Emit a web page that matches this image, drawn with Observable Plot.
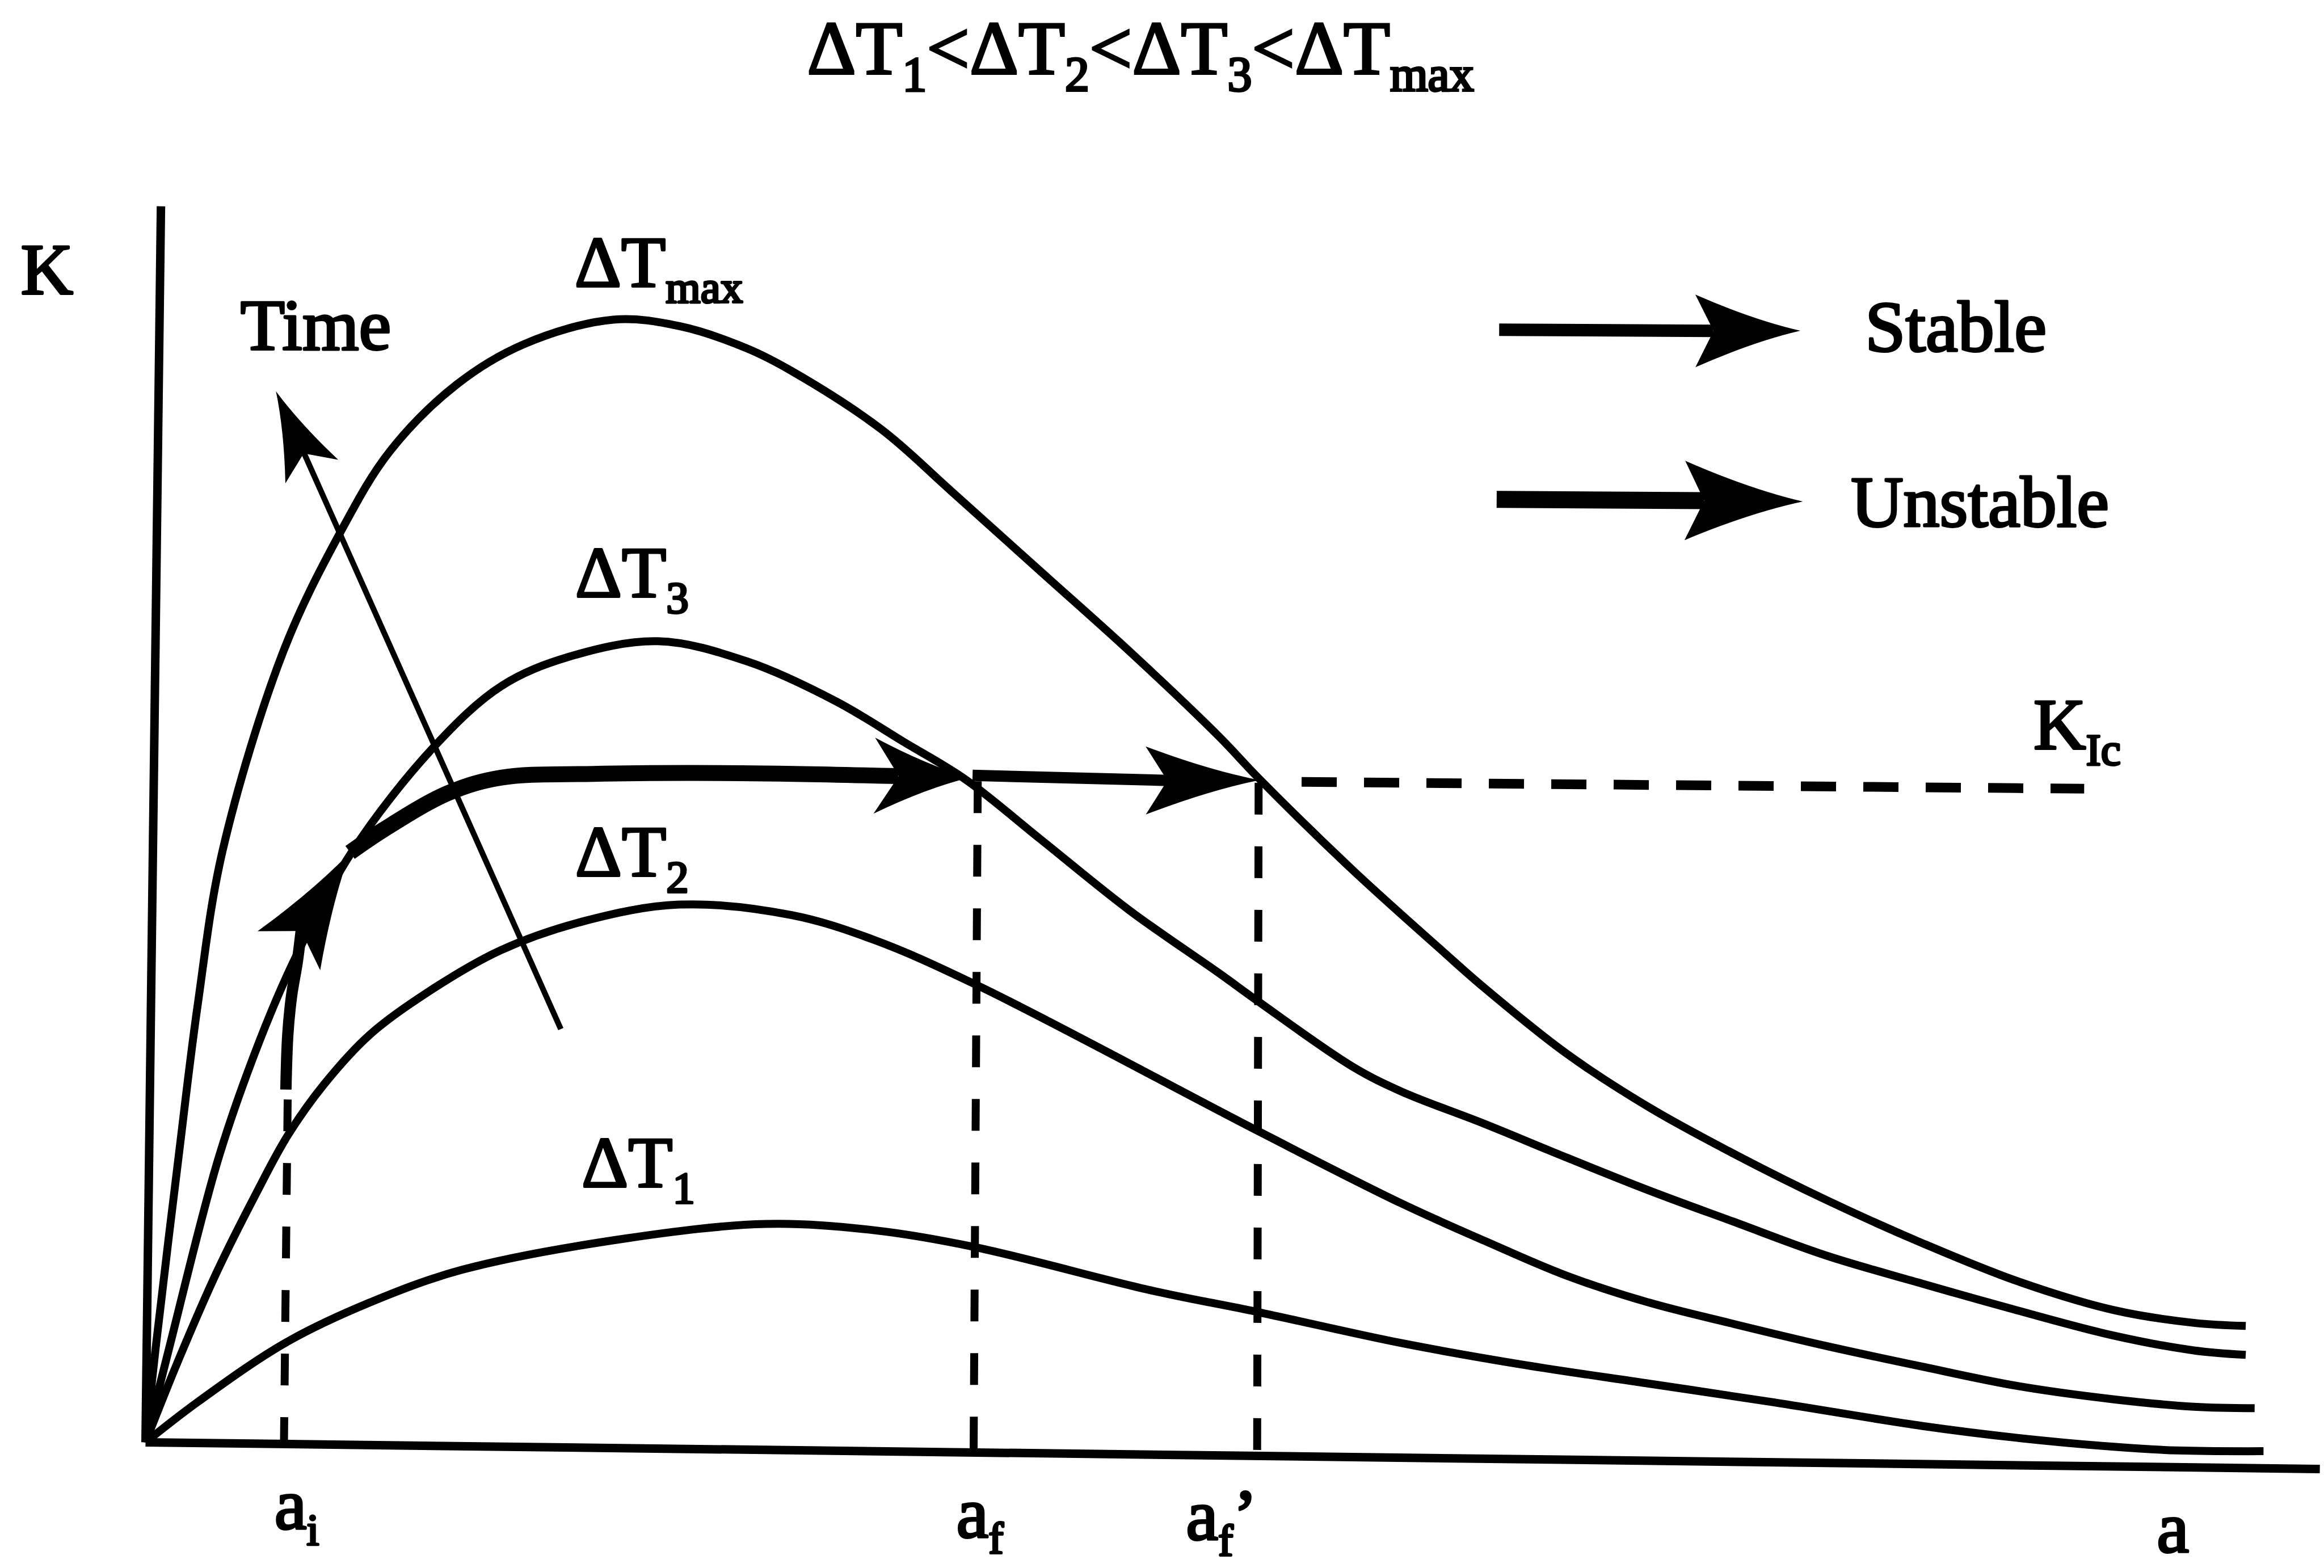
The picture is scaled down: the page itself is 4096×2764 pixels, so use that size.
<!DOCTYPE html>
<html>
<head>
<meta charset="utf-8">
<script src="https://cdn.jsdelivr.net/npm/d3@7"></script>
<script src="https://cdn.jsdelivr.net/npm/@observablehq/plot@0.6"></script>
<style>
  html, body { margin: 0; padding: 0; background: #fff; }
  #title { box-sizing: border-box; width: 4096px; height: 200px; padding: 18px 76px 0 0; text-align: center;
           font-family: "Liberation Serif", "Times New Roman", serif; font-size: 134px; line-height: 1; color: #000; white-space: nowrap;
           -webkit-text-stroke: 4px #000; paint-order: stroke fill; }
  #title sub { font-size: 0.64em; vertical-align: -30px; line-height: 0; }
  #chart svg { display: block; }
</style>
</head>
<body>
<div id="title"></div>
<div id="chart"></div>
<script>
// ---------------- data (a = crack length, K = stress intensity; schematic units) ----------------
const seriesNames = ["ΔTmax", "ΔT3", "ΔT2", "ΔT1"];
const titleOrder = [["ΔT", "1"], ["ΔT", "2"], ["ΔT", "3"], ["ΔT", "max"]];

const dTmax = [[0,0],[6.8,63.4],[22.3,192.6],[35.3,295.9],[52,399.2],[93.2,534.2],[131.6,614.3],[164.8,668.6],[210,713.8],[255.2,740.9],[315.5,757.5],[360.7,753],[406,738],[436,722.8],[496.3,683.6],[543.4,642],[603.7,587.8],[664,533.6],[724.2,476.3],[751.4,447.7],[814.7,385.9],[874.9,331.6],[903.1,306.8],[959,262.1],[1015,225.7],[1071,195],[1134,163.5],[1199,134.3],[1263,108.7],[1328,89.2],[1382,80.6],[1417,78.5]];
const dT3 = [[0,0],[15.9,63.4],[49.5,192.6],[76.6,270],[99.8,324.3],[139,398],[194.9,469.6],[240.1,510.3],[285.3,529.9],[345.6,540.5],[405.9,526.9],[466.2,499.8],[511.4,472.7],[553.6,447],[603.7,407],[664,358.8],[724.2,316.6],[751.4,297],[814.7,253.3],[847.1,236.8],[903.1,215],[959.1,192],[1015,169.7],[1071,149],[1134,126],[1199,107],[1263,89],[1328,72],[1382,62],[1417,59]];
const dT2 = [[0,0],[22.3,55.7],[48.2,115.1],[74,166.7],[95.9,207],[120.5,241.6],[151.5,275.2],[190.2,303.6],[239.6,332],[295.6,351.6],[359.9,362.8],[435.5,355.8],[491.5,339],[561.5,308.2],[751.4,209.6],[847.1,161.3],[903.1,136.1],[959.1,112.3],[1015,94.1],[1071,80],[1134,65],[1199,51],[1263,38],[1328,29],[1382,24],[1423,23]];
const dT1 = [[0,0],[35.2,27.2],[94.7,67.3],[151.5,94.4],[213.5,116.4],[323.6,137.5],[418.7,147.3],[491.5,143.1],[558.7,131.9],[678.5,102.5],[750,88],[847.1,67],[931,52.1],[1015,39.5],[1099,26.9],[1199,11],[1263,3],[1328,-3],[1371,-5.5],[1429,-6]];

const axisK = [[0,0],[10.4,834]];        // vertical K axis (scan slightly rotated)
const axisA = [[0,0],[1467,-18]];        // horizontal a axis
const kIcLine = [[780,445.6],[1308,441]];// K_Ic level
const crackMarks = [                      // a_i, a_f, a_f' verticals: [top, bottom]
  [[95.9,231.3],[93.4,-1.3]],
  [[561.5,446],[558.7,-6.8]],
  [[751,445],[750,-9.2]]
];
const timeArrow = [[280.2,278.8],[106.9,667.5]];                  // shaft to head notch
const unstableStem = [[94.7,238],[96,275.2],[98.5,301],[102.4,324.3],[105,345]];
const unstablePath = [[138,398],[161,413.6],[204,438],[240,448.5],[302,451],[402,451.5],[508,449.5]];
const stablePath = [[558,450],[689.4,446.6]];
const legendStable = [[913.3,750.7],[1057.8,749.9]];
const legendUnstable = [[911.6,636.2],[1051.4,635.4]];

// arrow tips: [tipA, tipK, fromA, fromK, kind]
const arrowTips = [
  [88, 709.2, 280.2, 278.8, "time"],
  [138, 398, 105, 345, "unstableRise"],
  [556, 448.5, 508, 449.5, "unstable"],
  [751.4, 446.8, 689.4, 446.6, "stable"],
  [1116.5, 750, 1057.8, 749.9, "legendStable"],
  [1118.2, 634.8, 1051.4, 635.4, "legendUnstable"]
];

const annotations = [
  {main: "K", a: -84.2, K: 775},
  {main: "Time", a: 64, K: 737.2},
  {main: "ΔT", sub: "max", a: 289.5, K: 780},
  {main: "ΔT", sub: "3", a: 289.9, K: 570.6},
  {main: "ΔT", sub: "2", a: 289.9, K: 382.2},
  {main: "ΔT", sub: "1", a: 294.2, K: 172.5},
  {main: "Stable", a: 1160.2, K: 736.4},
  {main: "Unstable", a: 1150.6, K: 618.1},
  {main: "K", sub: "Ic", a: 1273.8, K: 467.8},
  {main: "a", sub: "i", a: 87, K: -58.5},
  {main: "a", sub: "f", a: 547, K: -64},
  {main: "a", sub: "f", sup: "’", a: 702, K: -65.5},
  {main: "a", a: 1357, K: -74}
];

// ---------------- styles ----------------
const FONT = "Liberation Serif, Times New Roman, serif";
const FONT_SIZE = 128, SUB_SIZE = 79, SUB_SHIFT = 28;
const headShapes = {            // length, half-width, notch depth (px)
  time: [155, 51, 120],
  unstableRise: [204, 65, 163],
  unstable: [168, 67, 125],
  stable: [200, 60, 162],
  legendStable: [185, 64, 153],
  legendUnstable: [208, 70, 174]
};
function stealth([L, W, N]) {
  return {
    draw(ctx) {
      ctx.moveTo(0, 0);
      ctx.quadraticCurveTo(-0.45 * L, -0.3 * W, -L, -W);
      ctx.lineTo(-N, 0);
      ctx.lineTo(-L, W);
      ctx.quadraticCurveTo(-0.45 * L, 0.3 * W, 0, 0);
      ctx.closePath();
    }
  };
}

// ---------------- build tables ----------------
const toRows = (pts, name) => pts.map(([a, K]) => ({a, K, name}));
const curves = [dTmax, dT3, dT2, dT1].flatMap((c, i) => toRows(c, seriesNames[i]));
const tips = arrowTips.map(([a, K, fa, fk, kind]) => ({a, K, kind, angle: Math.atan2(-(K - fk), a - fa) * 180 / Math.PI}));
const dashRows = crackMarks.map(([t, b]) => ({a1: t[0], K1: t[1], a2: b[0], K2: b[1]}));

const lineOpts = (w, extra = {}) => ({x: "a", y: "K", stroke: "black", strokeWidth: w, strokeLinecap: "butt", strokeLinejoin: "round", ...extra});

const svg = Plot.plot({
  width: 4096,
  height: 2564,
  margin: 0,
  x: {domain: [-98, 1470], axis: null},
  y: {domain: [-85, 896.43], axis: null},
  style: {background: "white", fontFamily: FONT},
  marks: [
    Plot.line(toRows(axisK), lineOpts(15)),
    Plot.line(toRows(axisA), lineOpts(15)),
    Plot.link(dashRows, {x1: "a1", y1: "K1", x2: "a2", y2: "K2", stroke: "black", strokeWidth: 14, strokeDasharray: "56,56"}),
    Plot.line(toRows(kIcLine), lineOpts(17, {strokeDasharray: "62,48"})),
    Plot.line(curves, lineOpts(14, {z: "name", curve: "catmull-rom"})),
    Plot.line(toRows(timeArrow), lineOpts(10)),
    Plot.line(toRows(unstableStem), lineOpts(20, {curve: "catmull-rom"})),
    Plot.line(toRows(unstablePath), lineOpts(28, {curve: "catmull-rom"})),
    Plot.line(toRows(stablePath), lineOpts(20)),
    Plot.line(toRows(legendStable), lineOpts(22)),
    Plot.line(toRows(legendUnstable), lineOpts(30)),
    ...Object.keys(headShapes).map(kind =>
      Plot.dot(tips.filter(d => d.kind === kind), {x: "a", y: "K", r: 10, rotate: "angle", symbol: stealth(headShapes[kind]), fill: "black", stroke: "none"})
    ),
    Plot.text(annotations, {x: "a", y: "K", text: d => d.main + (d.sub || "") + (d.sup || ""), textAnchor: "start", lineAnchor: "bottom", fontSize: FONT_SIZE, fontFamily: FONT, fill: "black", stroke: "black", strokeWidth: 4})
  ]
});

// subscripts as real tspans
const NS = "http://www.w3.org/2000/svg";
svg.querySelectorAll('g[aria-label="text"] text').forEach((t, i) => {
  const d = annotations[i];
  if (!d) return;
  t.textContent = "";
  const m = document.createElementNS(NS, "tspan"); m.textContent = d.main; t.appendChild(m);
  if (d.sub) {
    const s = document.createElementNS(NS, "tspan");
    s.setAttribute("font-size", SUB_SIZE); s.setAttribute("dy", SUB_SHIFT); s.textContent = d.sub; t.appendChild(s);
  }
  if (d.sup) {
    const p = document.createElementNS(NS, "tspan");
    p.setAttribute("dy", -SUB_SHIFT); p.textContent = d.sup; t.appendChild(p);
  }
});
document.getElementById("chart").appendChild(svg);

// title
document.getElementById("title").innerHTML = titleOrder.map(([m, s]) => `${m}<sub>${s}</sub>`).join("&lt;");
</script>
</body>
</html>
